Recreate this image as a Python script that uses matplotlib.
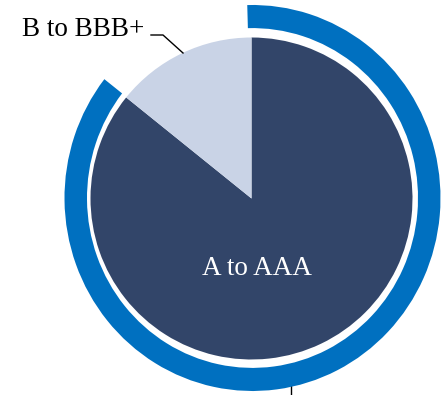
import matplotlib
matplotlib.use("Agg")
import matplotlib.pyplot as plt

labels = ["A to AAA", "B to BBB+"]
shares = [85.8, 14.2]
ring_share = [86.0, 14.0]

navy = "#324569"
light = "#c9d3e6"
blue = "#0070c0"

fig = plt.figure(figsize=(4.41, 3.95), dpi=100)

# ring axes: slightly taller than wide, like the original
ax2 = fig.add_axes([0, 0, 1, 1])
ax2.plot([291, 291], [0, 10], color="black", lw=1)
ax2.set_xlim(0, 441)
ax2.set_ylim(0, 395)

ax = fig.add_axes([0, 0, 1, 1])
ax.patch.set_alpha(0)

sy = 188 / 193.0
ring_ax = fig.add_axes([0, 0, 1, 1])
ring_ax.patch.set_alpha(0)
ring_ax.pie(ring_share, center=(252.5, 197 * sy), radius=188, startangle=91.6, counterclock=False,
            colors=[blue, "none"], wedgeprops=dict(width=22.5, linewidth=0))
ring_ax.set_xlim(0, 441)
ring_ax.set_ylim(0, 395 * sy)
ring_ax.set_aspect("auto")
ring_ax.axis("off")

# main pie
ax.pie(shares, center=(251.5, 196.5), radius=161, startangle=90, counterclock=False,
       colors=[navy, light], wedgeprops=dict(linewidth=0))

ax.text(256.5, 120, labels[0], color="white", fontsize=19.5, family="Liberation Serif",
        ha="center", va="baseline")
ax.text(83.5, 359, labels[1], color="black", fontsize=19.5, family="Liberation Serif",
        ha="center", va="baseline")

# leader line
ax.plot([151, 163, 183], [360, 360, 342], color="black", lw=1)

ax.set_xlim(0, 441)
ax.set_ylim(0, 395)
ax.set_aspect("equal")
ax.axis("off")
ax2.axis("off")

fig.savefig("out.png", dpi=100)
